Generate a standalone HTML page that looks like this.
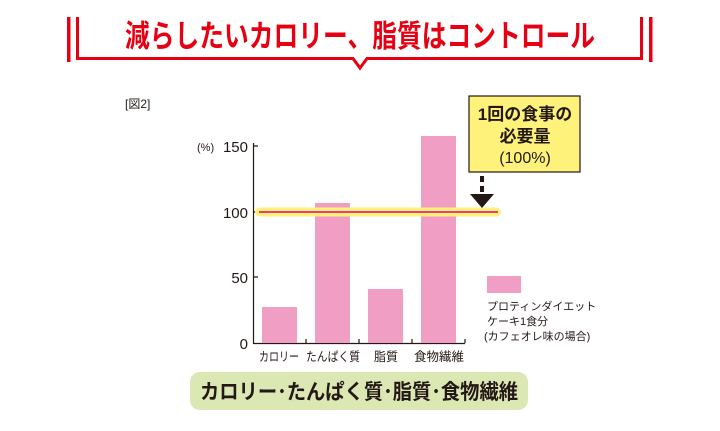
<!DOCTYPE html>
<html><head><meta charset="utf-8"><style>
body{margin:0;width:720px;height:431px;background:#fff;overflow:hidden;font-family:"Liberation Sans","Noto Sans CJK JP",sans-serif}
</style></head><body>
<svg width="720" height="431" xmlns="http://www.w3.org/2000/svg" style="position:absolute;left:0;top:0">
<g fill="#e60012">
<rect x="67" y="17" width="3.5" height="45"/>
<rect x="649" y="17" width="3.5" height="45"/>
</g>
<path d="M77.5 17 V58.5 H353 L360 68 L367 58.5 H641.5 V17" fill="none" stroke="#e60012" stroke-width="3"/>
<text x="360" y="47" text-anchor="middle" font-size="31" font-weight="bold" fill="#e60012" textLength="470" lengthAdjust="spacingAndGlyphs">減らしたいカロリー、脂質はコントロール</text>
<text x="125" y="108" font-size="12" fill="#231815">[図2]</text>
<g stroke="#231815" stroke-width="1.2" fill="none">
<path d="M253.5 143 V343.5 H465"/>
<path d="M253 146 H258 M253 212 H258 M253 277 H258 M306 343 V339 M359 343 V339 M412 343 V339 M465 343 V339"/>
</g>
<g font-size="15" fill="#231815" text-anchor="end">
<text x="248" y="152">150</text><text x="248" y="218">100</text><text x="248" y="283">50</text><text x="248" y="349">0</text>
</g>
<text x="197" y="151" font-size="11" fill="#231815">(%)</text>
<g fill="#f09ec4">
<rect x="262" y="307" width="35" height="36"/>
<rect x="315" y="203" width="35" height="140"/>
<rect x="368" y="289" width="35" height="54"/>
<rect x="421" y="136" width="35" height="207"/>
<rect x="487" y="276" width="34" height="17"/>
</g>
<rect x="255" y="207.5" width="246" height="9" rx="4.5" fill="#fff27a"/>
<line x1="259" y1="212" x2="498" y2="212" stroke="#e4007f" stroke-width="1.5"/>
<g font-size="12.5" fill="#231815" text-anchor="middle" lengthAdjust="spacingAndGlyphs">
<text x="279" y="361" textLength="40" lengthAdjust="spacingAndGlyphs">カロリー</text><text x="333" y="361" textLength="54" lengthAdjust="spacingAndGlyphs">たんぱく質</text><text x="386" y="361" textLength="24" lengthAdjust="spacingAndGlyphs">脂質</text><text x="439" y="361" textLength="50" lengthAdjust="spacingAndGlyphs">食物繊維</text>
</g>
<g font-size="11" fill="#231815">
<text x="487" y="310">プロティンダイエット</text><text x="487" y="325">ケーキ1食分</text><text x="484" y="340">(カフェオレ味の場合)</text>
</g>
<rect x="469" y="96" width="111" height="76" fill="#fff27a" stroke="#231815" stroke-width="1.2"/>
<g text-anchor="middle" fill="#231815" font-weight="bold" font-size="17">
<text x="525" y="120">1回の食事の</text><text x="525" y="142">必要量</text>
<text x="525" y="163" font-weight="normal" font-size="16">(100%)</text>
</g>
<rect x="480" y="176" width="4" height="6" fill="#231815"/>
<rect x="480" y="186" width="4" height="6" fill="#231815"/>
<path d="M470 194 H494 L482 208 Z" fill="#231815"/>
<rect x="190" y="372" width="338" height="38" rx="10" fill="#dce8b4"/>
<text x="359" y="399" text-anchor="middle" font-size="21" font-weight="bold" fill="#231815" textLength="318" lengthAdjust="spacingAndGlyphs">カロリー･たんぱく質･脂質･食物繊維</text>
</svg>
</body></html>
